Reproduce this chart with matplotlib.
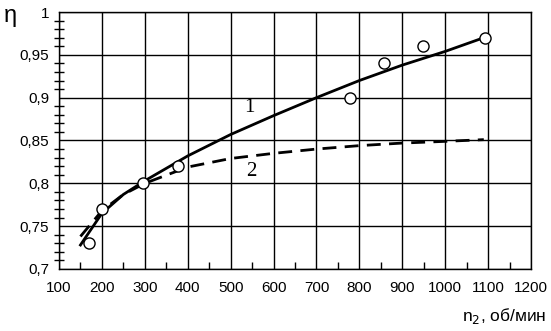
import numpy as np
import matplotlib
matplotlib.use("Agg")
import matplotlib.pyplot as plt
from matplotlib.ticker import MultipleLocator, FuncFormatter

# experimental points
n_exp = [170, 200, 295, 378, 778, 858, 948, 1093]
eta_exp = [0.73, 0.77, 0.80, 0.82, 0.90, 0.94, 0.96, 0.97]

# curve 1 (solid)
n_c1 = [150, 200, 250, 300, 400, 500, 600, 700, 800, 900, 1000, 1090]
eta_c1 = [0.728, 0.765, 0.787, 0.803, 0.832, 0.857, 0.879, 0.900, 0.920, 0.938, 0.954, 0.970]

# curve 2 (dashed)
n_c2 = [150, 200, 250, 300, 400, 500, 600, 700, 800, 900, 1000, 1090]
eta_c2 = [0.738, 0.768, 0.787, 0.800, 0.819, 0.829, 0.835, 0.840, 0.844, 0.847, 0.849, 0.851]

plt.rcParams["font.family"] = ["Liberation Sans", "DejaVu Sans"]

fig = plt.figure(figsize=(5.51, 3.31), dpi=100)
ax = fig.add_axes([59 / 551, (331 - 269) / 331, 472 / 551, 257 / 331])

ax.plot(n_c1, eta_c1, color="black", lw=2.0, zorder=3)
ax.plot(n_c2, eta_c2, color="black", lw=2.0, ls=(0, (5, 3)), zorder=3)
ax.plot(n_exp, eta_exp, "o", ms=8, mfc="white", mec="black", mew=1.0, zorder=4)

ax.text(544, 0.889, "1", family="Liberation Serif", fontsize=15, ha="center", va="center")
ax.text(548, 0.814, "2", family="Liberation Serif", fontsize=15, ha="center", va="center")

ax.set_xlim(100, 1200)
ax.set_ylim(0.7, 1.0)
ax.xaxis.set_major_locator(MultipleLocator(100))
ax.xaxis.set_minor_locator(MultipleLocator(50))
ax.yaxis.set_major_locator(MultipleLocator(0.05))
ax.yaxis.set_minor_locator(MultipleLocator(0.01))
ax.yaxis.set_major_formatter(FuncFormatter(lambda v, p: f"{v:g}".replace(".", ",")))
ax.grid(which="major", color="black", lw=1.0)
ax.tick_params(which="both", color="black", labelsize=11)
ax.tick_params(which="major", length=0)
ax.tick_params(axis="x", which="major", pad=9)
ax.tick_params(axis="y", which="major", pad=7)
ax.tick_params(axis="x", which="minor", direction="in", length=5, width=1)
ax.tick_params(axis="y", which="minor", direction="inout", length=7, width=1)
for s in ax.spines.values():
    s.set_linewidth(1.0)

fig.text(4 / 551, 1 - 16 / 331, "η", fontsize=17, ha="left", va="center")
fig.text(546 / 551, 1 - 316 / 331, "n$_2$, об/мин", fontsize=12.5, ha="right", va="center")

fig.savefig("out.png", dpi=100)
